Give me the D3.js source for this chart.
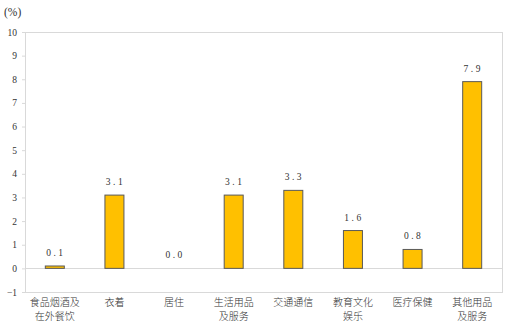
<!DOCTYPE html>
<html>
<head>
<meta charset="utf-8">
<script src="https://cdn.jsdelivr.net/npm/d3@7"></script>
<style>
  body { margin: 0; background: #fff; }
  text { font-family: "Liberation Serif", "Noto Sans CJK SC", serif; fill: #333; }
  .cat { font-family: "Noto Sans CJK SC", sans-serif; font-size: 10px; font-weight: 300; }
</style>
</head>
<body>
<div id="chart"></div>
<script>
// categories and values
const categories = [
    ['食品烟酒及', '在外餐饮'],
    ['衣着'],
    ['居住'],
    ['生活用品', '及服务'],
    ['交通通信'],
    ['教育文化', '娱乐'],
    ['医疗保健'],
    ['其他用品', '及服务']
];
const values = [0.1, 3.1, 0.0, 3.1, 3.3, 1.6, 0.8, 7.9];
const yTicks = [-1, 0, 1, 2, 3, 4, 5, 6, 7, 8, 9, 10];

const svgWidth = 510;
const svgHeight = 325;

var svg = d3.select('#chart')
    .append('svg')
    .attr('width', svgWidth)
    .attr('height', svgHeight);

const plotLeft = 25, plotRight = 502, plotTop = 32, plotBottom = 292;

// scales
var xScale = d3.scaleBand()
    .domain(d3.range(categories.length))
    .range([plotLeft, plotRight]);

var yScale = d3.scaleLinear()
    .domain([-1, 10])
    .range([plotBottom, plotTop]);

// frame
svg.append('rect')
    .attr('x', plotLeft + 0.5)
    .attr('y', plotTop + 0.5)
    .attr('width', plotRight - plotLeft)
    .attr('height', plotBottom - plotTop)
    .attr('fill', 'none')
    .attr('stroke', '#d9d9d9');

// Y-axis
var yAxis = d3.axisLeft(yScale)
    .tickValues(yTicks)
    .tickSize(3)
    .tickPadding(5);

var yG = svg.append('g')
    .attr('transform', 'translate(' + plotLeft + ',0)')
    .call(yAxis);
yG.select('.domain').attr('stroke', '#d9d9d9');
yG.selectAll('.tick line').attr('stroke', '#d9d9d9');
yG.selectAll('.tick text')
    .style('font-size', '9.5px')
    .attr('fill', '#333');

// zero line
svg.append('line')
    .attr('x1', plotLeft)
    .attr('x2', plotRight)
    .attr('y1', Math.round(yScale(0)) + 0.5)
    .attr('y2', Math.round(yScale(0)) + 0.5)
    .attr('stroke', '#d9d9d9');

// bars
var barWidth = 19;
svg.append('g')
    .selectAll('rect')
    .data(values)
    .join('rect')
    .attr('x', (d, i) => xScale(i) + xScale.bandwidth() / 2 - barWidth / 2)
    .attr('y', d => yScale(Math.max(d, 0)))
    .attr('width', barWidth)
    .attr('height', d => Math.abs(yScale(d) - yScale(0)))
    .attr('fill', '#FFC000')
    .attr('stroke', '#595959')
    .attr('stroke-width', 1);

// value labels
svg.append('g')
    .selectAll('text')
    .data(values)
    .join('text')
    .attr('x', (d, i) => xScale(i) + xScale.bandwidth() / 2 + 1)
    .attr('y', d => yScale(d) - 10)
    .attr('text-anchor', 'middle')
    .style('font-size', '9.5px')
    .style('letter-spacing', '2.5px')
    .text(d => d.toFixed(1));

// category labels
var catG = svg.append('g');
categories.forEach((lines, i) => {
    lines.forEach((t, j) => {
        catG.append('text')
            .attr('class', 'cat')
            .attr('x', xScale(i) + xScale.bandwidth() / 2)
            .attr('y', 306 + j * 14)
            .attr('text-anchor', 'middle')
            .text(t);
    });
});

// unit
svg.append('text')
    .attr('x', 4)
    .attr('y', 16)
    .style('font-size', '11.5px')
    .text('(%)');
</script>
</body>
</html>
